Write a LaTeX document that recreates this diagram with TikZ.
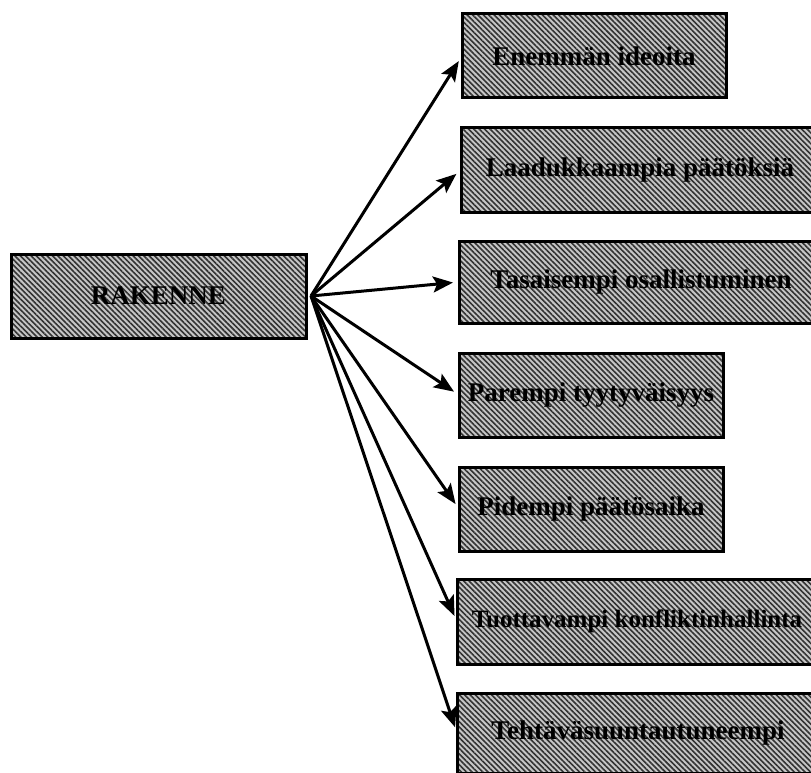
\documentclass[tikz,border=0pt]{standalone}
\usepackage{fontspec}
\setmainfont{Liberation Serif}
\usetikzlibrary{arrows.meta,patterns.meta}
\begin{document}
\begin{tikzpicture}[x=1pt,y=-1pt,
  hatchbox/.style={draw=black, line width=3pt,
    preaction={fill=gray!45},
    pattern={Lines[angle=-45,distance=3.8pt,line width=1.6pt]},
    pattern color=black!80,
    font=\fontsize{27}{29}\selectfont\bfseries,
    inner sep=0pt, outer sep=0pt, minimum height=84pt},
  link/.style={line width=3pt,
    -{Stealth[length=20pt,width=16pt,inset=4pt]}, shorten >=6pt}]
\useasboundingbox (0,0) rectangle (811,773);
\clip (0,0) rectangle (811,773);

% source box
\node[hatchbox, minimum width=295pt, anchor=north west] (R) at (11,254) {RAKENNE};
\coordinate (hub) at ([xshift=5pt]R.east);

% result boxes
\node[hatchbox, minimum width=264pt, anchor=north west] (b1) at (462,14) {Enemmän ideoita};
\node[hatchbox, minimum width=358pt, anchor=north west] (b2) at (461,128) {Laadukkaampia päätöksiä};
\node[hatchbox, minimum width=364pt, minimum height=82pt, anchor=north west] (b3) at (459,241) {Tasaisempi osallistuminen};
\node[hatchbox, minimum width=264pt, anchor=north west] (b4) at (459,353) {Parempi tyytyväisyys};
\node[hatchbox, minimum width=264pt, anchor=north west] (b5) at (459,467) {Pidempi päätösaika};
\node[hatchbox, minimum width=360pt, minimum height=85pt, anchor=north west, inner xsep=4pt,
  font=\fontsize{25}{27}\selectfont\bfseries] (b6) at (457,579) {Tuottavampi konfliktinhallinta};
\node[hatchbox, minimum width=362pt, minimum height=80pt, anchor=north west] (b7) at (457,693) {Tehtäväsuuntautuneempi};

% arrows
\foreach \b in {b1,b2,b3,b4,b5,b6,b7}
  \draw[link] (hub) -- (\b.west);
\end{tikzpicture}
\end{document}
